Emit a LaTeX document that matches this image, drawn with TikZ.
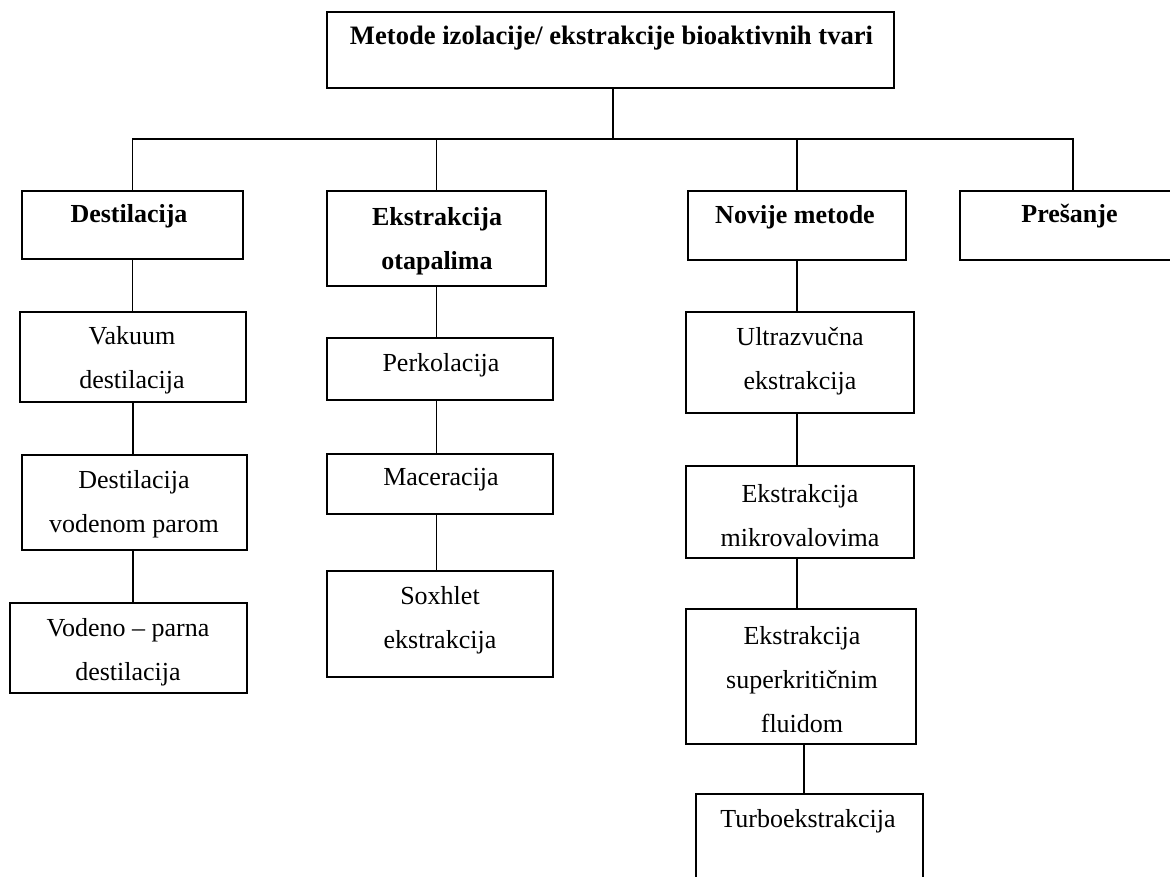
\documentclass[tikz,border=0pt]{standalone}
\usepackage{fontspec}
\setmainfont{Liberation Serif}
\begin{document}
\begin{tikzpicture}[x=1pt,y=-1pt,
  thickbox/.style={draw=black,line width=2.6pt,rectangle,inner sep=0pt},
  thinbox/.style={draw=black,line width=1.6pt,rectangle,inner sep=0pt},
  conn/.style={draw=black,line width=1.5pt},
  txt/.style={align=center,inner sep=0pt,font=\fontsize{26}{44}\selectfont},
  btxt/.style={align=center,inner sep=0pt,font=\fontsize{26}{44}\selectfont\bfseries}]
\useasboundingbox (0,0) rectangle (1170,876);
\clip (0,0) rectangle (1170,876);
\fill[white] (0,0) rectangle (1170,876);
% level 0
\node[thickbox,minimum width=567pt,minimum height=76pt] (top) at (610.5,50) {};
\node[btxt,font=\fontsize{26.6}{44}\selectfont\bfseries] (ttop) at (611.5,38) {Metode izolacije/ ekstrakcije bioaktivnih tvari};
% level 1
\node[thickbox,minimum width=221pt,minimum height=68pt] (dest) at (132.5,225) {};
\node[btxt] (tdest) at (129,216) {Destilacija};
\node[thickbox,minimum width=219pt,minimum height=95pt] (eks) at (436.5,238.5) {};
\node[btxt] (teks) at (437,241) {Ekstrakcija\\otapalima};
\node[thickbox,minimum width=218pt,minimum height=69pt] (nov) at (797,225.5) {};
\node[btxt] (tnov) at (795,217) {Novije metode};
\node[thickbox,minimum width=226pt,minimum height=69pt] (pres) at (1073,225.5) {};
\node[btxt] (tpres) at (1069.5,216) {Prešanje};
% destilacija column
\node[thinbox,minimum width=226pt,minimum height=90pt] (vak) at (133,357) {};
\node[txt] (tvak) at (132,360.5) {Vakuum\\destilacija};
\node[thinbox,minimum width=225pt,minimum height=95pt] (vod) at (134.5,502.5) {};
\node[txt] (tvod) at (134,504) {Destilacija\\vodenom parom};
\node[thinbox,minimum width=237pt,minimum height=90pt] (vp) at (128.5,648) {};
\node[txt] (tvp) at (128,652) {Vodeno – parna\\destilacija};
% ekstrakcija column
\node[thinbox,minimum width=226pt,minimum height=62pt] (perk) at (440,369) {};
\node[txt] (tperk) at (441,365) {Perkolacija};
\node[thinbox,minimum width=226pt,minimum height=60pt] (mac) at (440,484) {};
\node[txt] (tmac) at (441,480) {Maceracija};
\node[thinbox,minimum width=226pt,minimum height=106pt] (sox) at (440,624) {};
\node[txt] (tsox) at (440,620.5) {Soxhlet\\ekstrakcija};
% novije column
\node[thinbox,minimum width=228pt,minimum height=101pt] (ult) at (800,362.5) {};
\node[txt] (tult) at (800,361) {Ultrazvučna\\ekstrakcija};
\node[thinbox,minimum width=228pt,minimum height=92pt] (mik) at (800,512) {};
\node[txt] (tmik) at (800,515.5) {Ekstrakcija\\mikrovalovima};
\node[thinbox,minimum width=230pt,minimum height=135pt] (sup) at (801,676.5) {};
\node[txt] (tsup) at (802,680) {Ekstrakcija\\superkritičnim\\fluidom};
\node[thinbox,minimum width=227pt,minimum height=106pt] (turbo) at (809.5,847) {};
\node[txt] (tturbo) at (808,821) {Turboekstrakcija};
% connectors
\coordinate (bus) at (613,139);
\draw[conn] (bus |- top.south) -- (bus);
\draw[conn] (dest.north) |- (bus) -| (pres.north);
\draw[conn] (eks.north) -- (eks.north |- bus);
\draw[conn] (nov.north) -- (nov.north |- bus);
\draw[conn] (dest.south) -- (dest.south |- vak.north);
\draw[conn] (vak.south) -- (vak.south |- vod.north);
\draw[conn] (vak.south |- vod.south) -- (vak.south |- vp.north);
\draw[conn] (eks.south) -- (eks.south |- perk.north);
\draw[conn] (eks.south |- perk.south) -- (eks.south |- mac.north);
\draw[conn] (eks.south |- mac.south) -- (eks.south |- sox.north);
\draw[conn] (nov.south) -- (nov.south |- ult.north);
\draw[conn] (nov.south |- ult.south) -- (nov.south |- mik.north);
\draw[conn] (nov.south |- mik.south) -- (nov.south |- sup.north);
\draw[conn] ([xshift=3pt]sup.south) -- ([xshift=3pt]sup.south |- turbo.north);
\end{tikzpicture}
\end{document}
